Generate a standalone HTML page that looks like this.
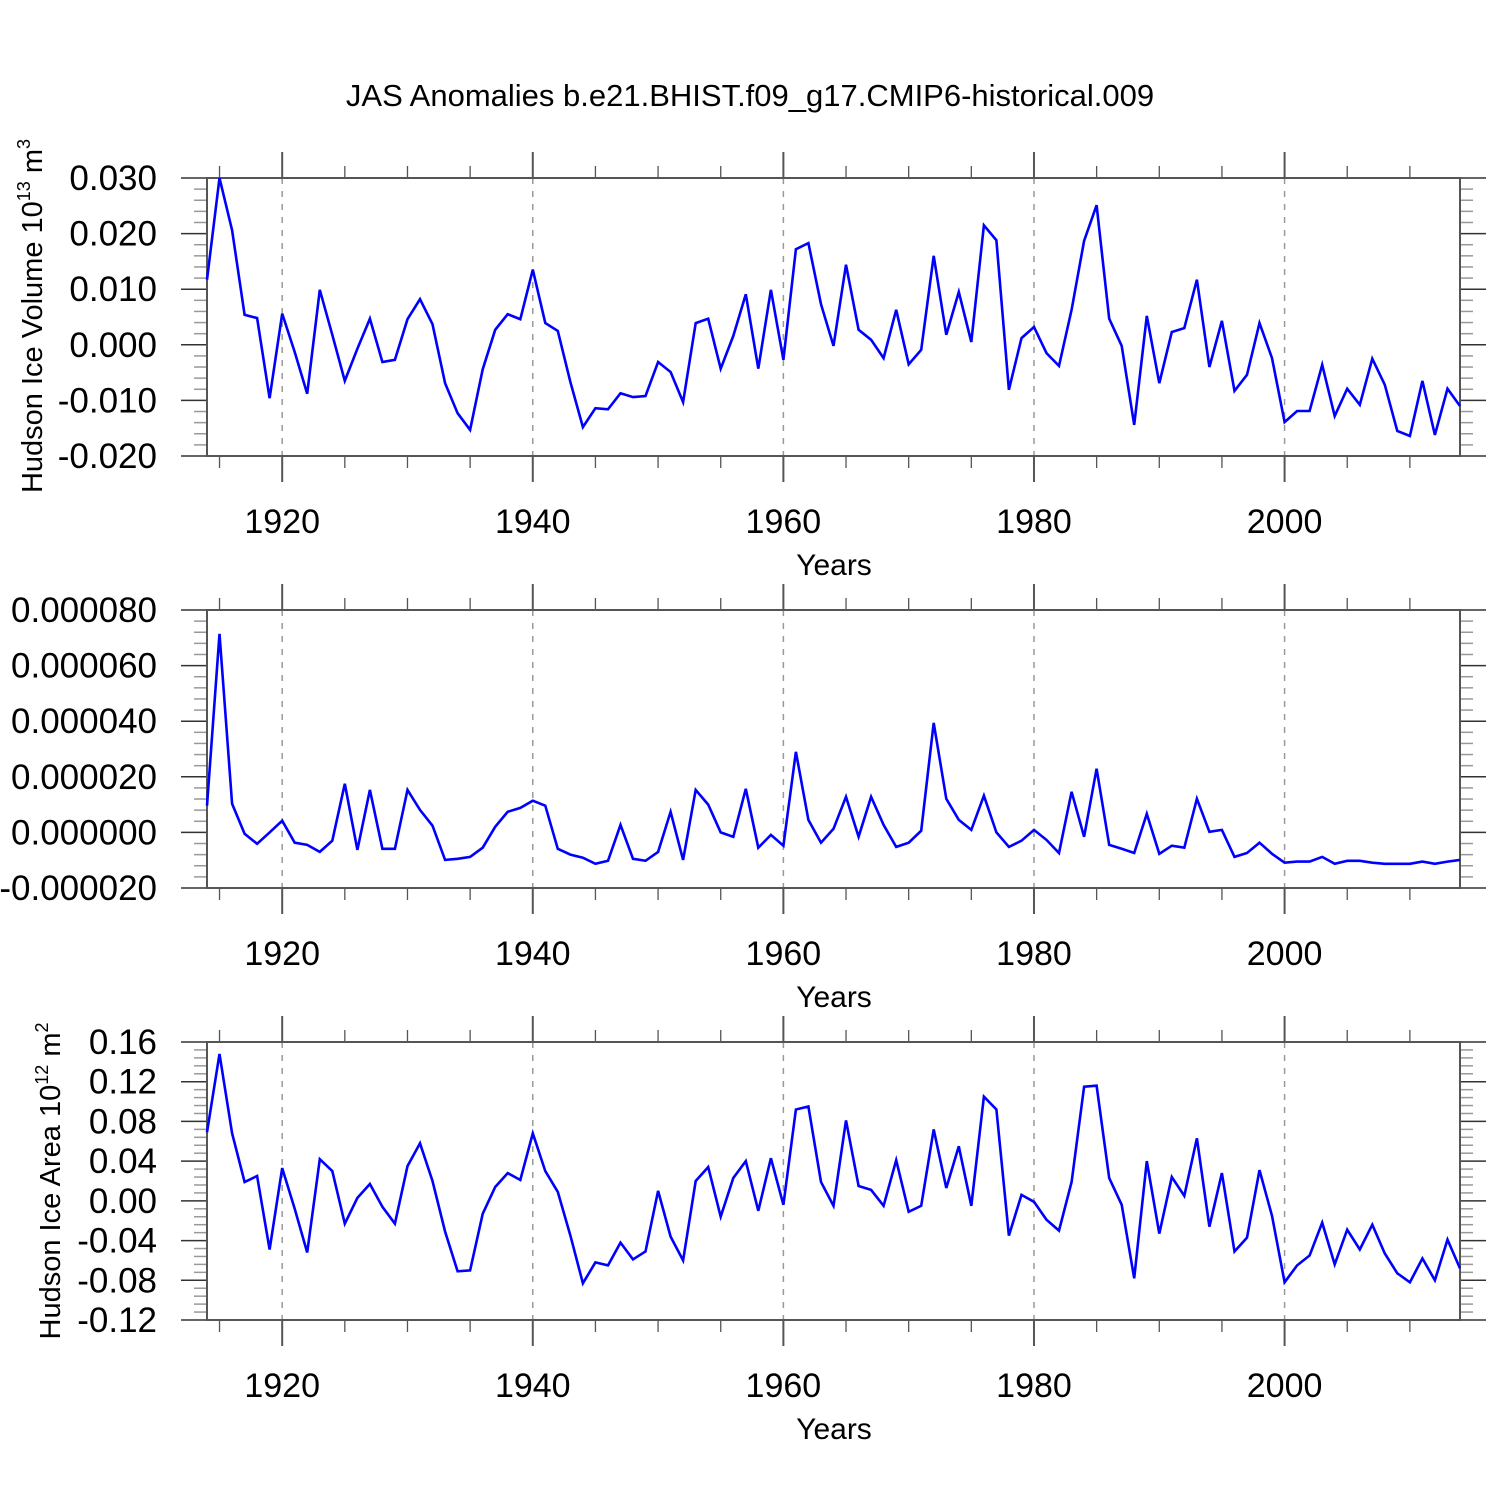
<!DOCTYPE html>
<html><head><meta charset="utf-8"><style>
html,body{margin:0;padding:0;background:#fff}
svg{display:block;font-family:"Liberation Sans",sans-serif}
</style></head><body>
<svg id="chart" width="1500" height="1500" viewBox="0 0 1500 1500" xmlns="http://www.w3.org/2000/svg">
<text x="750" y="106" font-size="31" text-anchor="middle">JAS Anomalies b.e21.BHIST.f09_g17.CMIP6-historical.009</text>
</svg>
<script>
const years = [];
for (let y = 1914; y <= 2014; y++) years.push(y);
const xTicks = [1920, 1940, 1960, 1980, 2000];
const volumeValues = [0.0117,0.030,0.0206,0.0054,0.0048,-0.0096,0.0056,-0.0013,-0.0088,0.0099,0.0018,-0.0065,-0.0007,0.0047,-0.0031,-0.0027,0.0046,0.0082,0.0037,-0.0069,-0.0123,-0.0153,-0.0044,0.0027,0.0055,0.0046,0.0135,0.0039,0.0025,-0.0067,-0.0148,-0.0114,-0.0116,-0.0087,-0.0094,-0.0092,-0.0031,-0.0049,-0.0103,0.0039,0.0047,-0.0043,0.0016,0.0091,-0.0043,0.0099,-0.0027,0.0172,0.0183,0.0073,-0.0002,0.0144,0.0027,0.0009,-0.0024,0.0063,-0.0035,-0.0009,0.016,0.0018,0.0095,0.0005,0.0215,0.0188,-0.0081,0.0012,0.0032,-0.0015,-0.0038,0.0063,0.0187,0.0251,0.0047,-0.0002,-0.0144,0.0052,-0.0069,0.0023,0.003,0.0117,-0.004,0.0043,-0.0083,-0.0054,0.0039,-0.0024,-0.0139,-0.0119,-0.0119,-0.0036,-0.0128,-0.0079,-0.0108,-0.0025,-0.0072,-0.0155,-0.0164,-0.0065,-0.0162,-0.0079,-0.011];
const volumeTicks = ["0.030","0.020","0.010","0.000","-0.010","-0.020"];
const middleValuesMicro = [9.6,71.4,10.3,-0.5,-4.1,0,4.2,-3.7,-4.5,-7,-3,17.5,-6.3,15.3,-5.9,-5.9,15.3,8.1,2.4,-9.9,-9.5,-8.8,-5.5,2,7.4,8.8,11.4,9.6,-5.9,-8,-9.1,-11.3,-10.2,2.7,-9.5,-10.2,-7,7.4,-9.9,15.3,10,0,-1.6,15.7,-5.5,-0.9,-4.8,29,4.5,-3.7,1.3,12.8,-1.6,12.8,2.7,-5.2,-3.7,0.6,39.4,12.1,4.5,0.9,13.2,0,-5.2,-3,0.9,-2.7,-7.4,14.6,-1.6,22.9,-4.5,-5.9,-7.4,6.7,-7.7,-4.8,-5.5,12.1,0.2,0.9,-8.8,-7.4,-3.7,-7.7,-10.9,-10.5,-10.5,-8.8,-11.3,-10.2,-10.2,-10.9,-11.3,-11.3,-11.3,-10.5,-11.3,-10.5,-9.9];
const middleTicks = ["0.000080","0.000060","0.000040","0.000020","0.000000","-0.000020"];
const areaValues = [0.069,0.148,0.068,0.019,0.025,-0.049,0.033,-0.008,-0.052,0.042,0.030,-0.023,0.003,0.017,-0.006,-0.023,0.035,0.058,0.020,-0.031,-0.071,-0.070,-0.013,0.014,0.028,0.021,0.068,0.030,0.009,-0.035,-0.083,-0.062,-0.065,-0.042,-0.059,-0.051,0.010,-0.036,-0.060,0.020,0.034,-0.016,0.023,0.040,-0.010,0.043,-0.004,0.092,0.095,0.019,-0.005,0.081,0.015,0.011,-0.005,0.041,-0.011,-0.005,0.072,0.013,0.055,-0.005,0.105,0.092,-0.035,0.006,-0.001,-0.019,-0.030,0.019,0.115,0.116,0.023,-0.004,-0.078,0.040,-0.033,0.024,0.005,0.063,-0.026,0.028,-0.051,-0.037,0.031,-0.015,-0.082,-0.065,-0.055,-0.022,-0.064,-0.029,-0.049,-0.024,-0.053,-0.073,-0.082,-0.058,-0.080,-0.039,-0.068];
const areaTicks = ["0.16","0.12","0.08","0.04","0.00","-0.04","-0.08","-0.12"];

const NS = "http://www.w3.org/2000/svg";
const svg = document.getElementById('chart');
const L = 207, R = 1460, X0 = 1914, X1 = 2014;
function xs(v){ return L + (v - X0) / (X1 - X0) * (R - L); }
function mk(tag, attrs, parent){ const e = document.createElementNS(NS, tag); for (const k in attrs) e.setAttribute(k, attrs[k]); (parent||svg).appendChild(e); return e; }

function panel(name, top, bot, ymin, ymax, majorStep, minorStep, tickLabels, values, scale, titleParts){
  const g = mk('g', {});
  
  
  const ys = v => bot - (v - ymin) / (ymax - ymin) * (bot - top);
  xTicks.forEach(t => {
    const l = mk('line', {x1: xs(t), x2: xs(t), y1: top, y2: bot, stroke: '#999', 'stroke-width': 1.5, 'stroke-dasharray': '6 7'}, g);
    
    
  });
  for (let t = 1915; t <= 2014; t += 5) {
    const major = t % 20 === 0;
    const len = major ? 26 : 12;
    const w = major ? 2 : 1.3;
    mk('line', {x1: xs(t), x2: xs(t), y1: top, y2: top - len, stroke: '#555', 'stroke-width': w}, g);
    mk('line', {x1: xs(t), x2: xs(t), y1: bot, y2: bot + len, stroke: '#555', 'stroke-width': w}, g);
  }
  xTicks.forEach(t => {
    const tx = mk('text', {x: xs(t), y: bot + 77, 'font-size': 34, 'text-anchor': 'middle'}, g);
    tx.textContent = t;
    
    
  });
  const yl = mk('text', {x: 834, y: bot + 119, 'font-size': 30, 'text-anchor': 'middle'}, g);
  yl.textContent = 'Years';
  
  
  const nMinor = Math.round((ymax - ymin) / minorStep);
  const per = Math.round(majorStep / minorStep);
  for (let i = 0; i <= nMinor; i++) {
    const y = ys(ymin + i * minorStep);
    const major = i % per === 0;
    const len = major ? 26 : 13;
    const c = major ? '#333' : '#999';
    mk('line', {x1: L, x2: L - len, y1: y, y2: y, stroke: c, 'stroke-width': 1.5}, g);
    mk('line', {x1: R, x2: R + len, y1: y, y2: y, stroke: c, 'stroke-width': 1.5}, g);
  }
  tickLabels.forEach((lab, i) => {
    const tx = mk('text', {x: 157, y: top + i * (bot - top) / (tickLabels.length - 1) + 12, 'font-size': 35, 'text-anchor': 'end'}, g);
    tx.textContent = lab;
    
    
  });
  const fr = mk('rect', {x: L, y: top, width: R - L, height: bot - top, fill: 'none', stroke: '#555', 'stroke-width': 2}, g);
  
  
  const pts = values.map((v, i) => xs(years[i]).toFixed(1) + ',' + ys(v * scale).toFixed(1)).join(' ');
  const pl = mk('polyline', {points: pts, fill: 'none', stroke: '#0000ff', 'stroke-width': 2.6, 'stroke-linejoin': 'miter'}, g);
  
  
  if (titleParts) {
    const t = mk('text', {transform: `translate(${titleParts.x},${titleParts.y}) rotate(-90)`, 'font-size': 29, 'text-anchor': 'middle'}, g);
    
    
    t.innerHTML = titleParts.text + ' 10<tspan font-size="18" dy="-12">' + titleParts.e + '</tspan><tspan dy="12"> m</tspan><tspan font-size="18" dy="-12">' + titleParts.u + '</tspan>';
  }
}
panel('volume', 178, 456, -0.020, 0.030, 0.010, 0.002, volumeTicks, volumeValues, 1, {x: 42, y: 316, text: 'Hudson Ice Volume', e: '13', u: '3'});
panel('middle', 610, 888, -0.00002, 0.00008, 0.00002, 0.000004, middleTicks, middleValuesMicro, 1e-6, null);
panel('area', 1042, 1320, -0.12, 0.16, 0.04, 0.008, areaTicks, areaValues, 1, {x: 60, y: 1181, text: 'Hudson Ice Area', e: '12', u: '2'});
</script>
</body></html>
